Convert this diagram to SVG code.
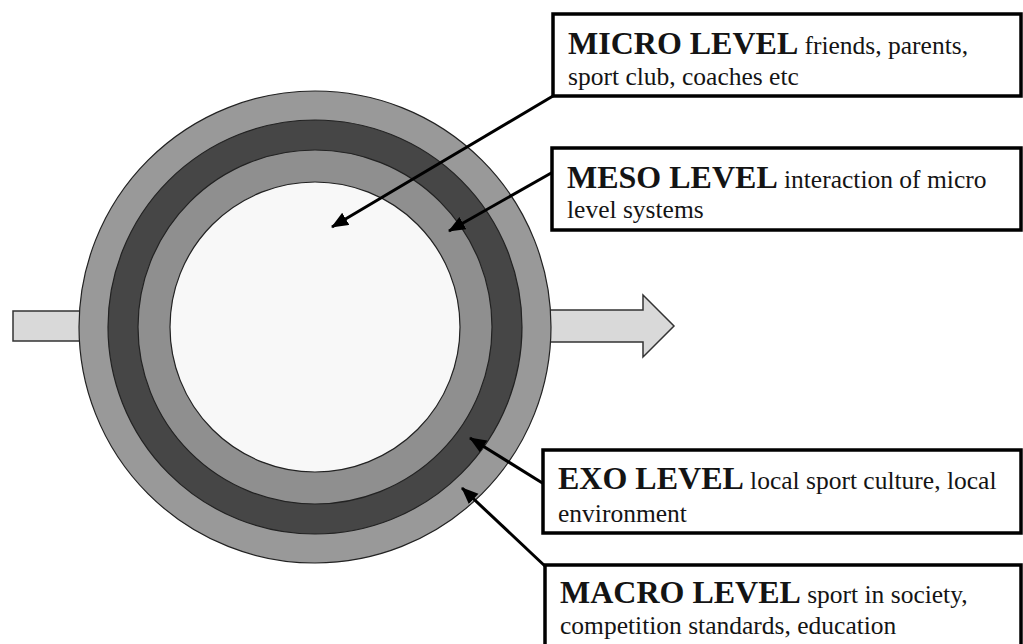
<svg xmlns="http://www.w3.org/2000/svg" width="1023" height="644" viewBox="0 0 1023 644">
<style>
.box{fill:#ffffff;stroke:#000;stroke-width:3.5}
.t{font-family:"Liberation Serif","Times New Roman",serif;font-size:25.5px;fill:#141414}
.b{font-weight:bold;font-size:32px}
.con{stroke:#000;stroke-width:3;fill:none;marker-end:url(#ah)}
.ring{stroke:#222;stroke-width:1.2}
.flow{fill:#d9d9d9;stroke:#333;stroke-width:1.5}
</style>
<defs>
<marker id="ah" markerUnits="userSpaceOnUse" markerWidth="20" markerHeight="16" refX="16" refY="7" orient="auto">
<path d="M0,0 L17,7 L0,14 Z" fill="#000"/>
</marker>
</defs>
<rect width="1023" height="644" fill="#fff"/>
<g id="input-arrow">
<rect class="flow" x="13" y="311" width="75" height="30"/>
</g>
<g id="output-arrow">
<polygon class="flow" points="540,310 643,310 643,295 674,326 643,357 643,342 540,342"/>
</g>
<g id="circles">
<circle class="ring" cx="315" cy="327" r="236" fill="#999999"/>
<circle class="ring" cx="315" cy="327" r="207" fill="#464646"/>
<circle class="ring" cx="315" cy="327" r="177" fill="#8f8f8f"/>
<circle class="ring" cx="315" cy="327" r="145" fill="#f8f8f8"/>
</g>
<g id="connectors">
<line class="con" x1="553" y1="96" x2="332" y2="227"/>
<line class="con" x1="553" y1="172" x2="449" y2="231"/>
<line class="con" x1="544" y1="484" x2="470" y2="438"/>
<line class="con" x1="546" y1="567" x2="462" y2="488"/>
</g>
<g id="micro">
<rect class="box" x="553" y="14" width="468" height="82"/>
<text class="t" x="568" y="54"><tspan class="b">MICRO LEVEL </tspan>friends, parents,</text>
<text class="t" x="568" y="85">sport club, coaches etc</text>
</g>
<g id="meso">
<rect class="box" x="552" y="148" width="469" height="82"/>
<text class="t" x="567" y="188"><tspan class="b">MESO LEVEL </tspan>interaction of micro</text>
<text class="t" x="567" y="218">level systems</text>
</g>
<g id="exo">
<rect class="box" x="543" y="450" width="478" height="83"/>
<text class="t" x="558" y="489"><tspan class="b">EXO LEVEL </tspan>local sport culture, local</text>
<text class="t" x="558" y="522">environment</text>
</g>
<g id="macro">
<rect class="box" x="545" y="565" width="476" height="100"/>
<text class="t" x="560" y="603"><tspan class="b">MACRO LEVEL </tspan>sport in society,</text>
<text class="t" x="560" y="634">competition standards, education</text>
</g>
</svg>
